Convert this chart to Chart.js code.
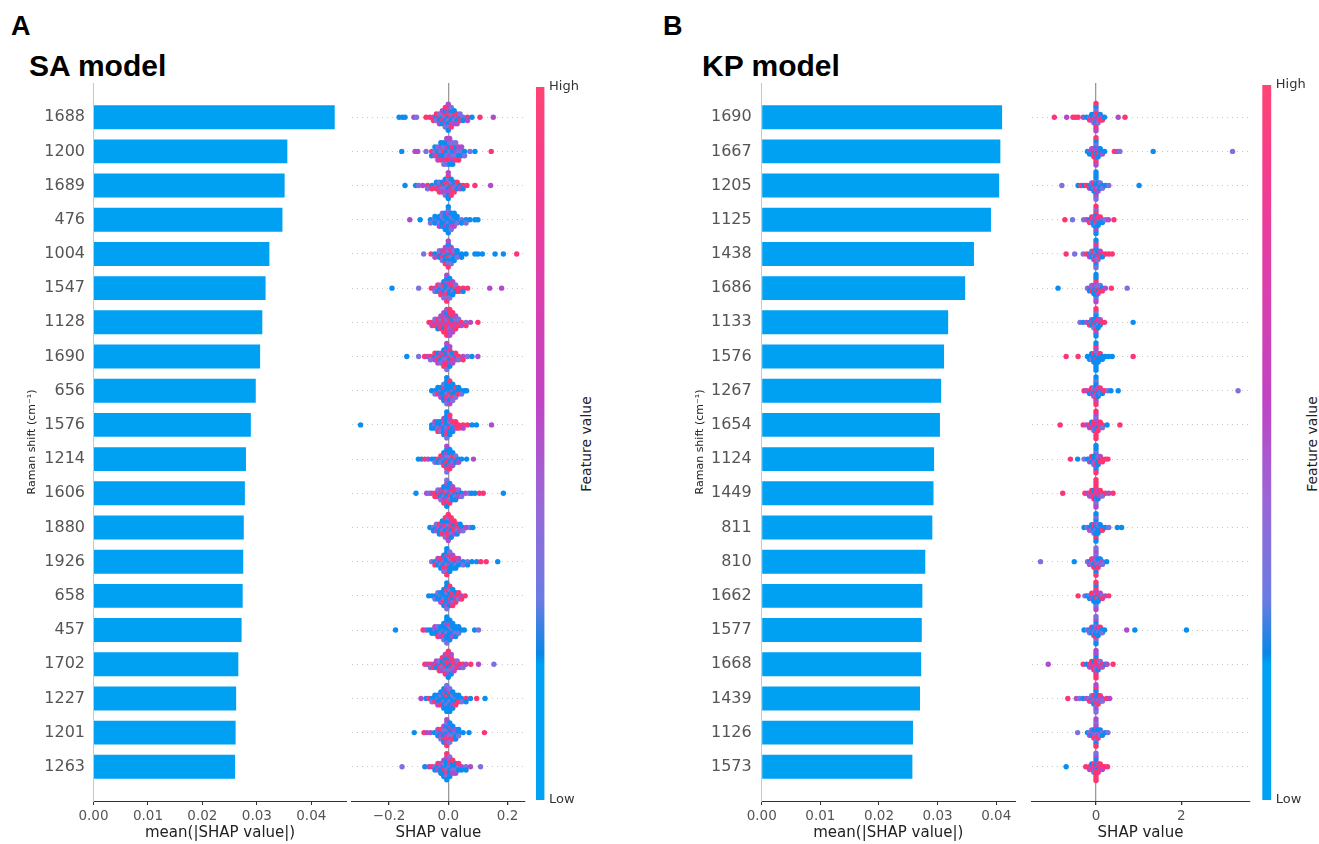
<!DOCTYPE html>
<html>
<head>
<meta charset="utf-8">
<script src="https://cdn.jsdelivr.net/npm/chart.js@4.4.1/dist/chart.umd.min.js"></script>
<style>
  body { margin: 0; background: #fff; width: 1319px; height: 844px; position: relative; overflow: hidden; }
  canvas { position: absolute; top: 0; }
  .lab { position: absolute; font-family: "Liberation Sans", Arial, sans-serif; font-weight: bold; color: #000; line-height: 1; white-space: nowrap; }
  .fv { position: absolute; font: 14px "DejaVu Sans", sans-serif; color: #222; white-space: nowrap; transform: translate(-50%, -50%) rotate(-90deg); }
</style>
</head>
<body>
<div class="lab" style="left:11px;top:13px;font-size:27px">A</div>
<div class="lab" style="left:29px;top:51px;font-size:30px">SA model</div>
<div class="lab" style="left:663px;top:13px;font-size:27px">B</div>
<div class="lab" style="left:702px;top:51px;font-size:30px">KP model</div>
<div class="fv" style="left:586px;top:444px">Feature value</div>
<div class="fv" style="left:1312px;top:444px">Feature value</div>

<canvas id="barA" width="360" height="844" style="left:0px"></canvas>
<canvas id="swarmA" width="200" height="844" style="left:340px"></canvas>
<canvas id="cbarA" width="80" height="844" style="left:530px"></canvas>
<canvas id="barB" width="370" height="844" style="left:660px"></canvas>
<canvas id="swarmB" width="245" height="844" style="left:1020px"></canvas>
<canvas id="cbarB" width="63" height="844" style="left:1256px"></canvas>

<script>
// ---- data ----
const saLabels = ['1688','1200','1689','476','1004','1547','1128','1690','656','1576',
  '1214','1606','1880','1926','658','457','1702','1227','1201','1263'];
const saMean = [0.0443,0.0356,0.0351,0.0347,0.0323,0.0316,0.0310,0.0306,0.0298,0.0289,
  0.0280,0.0278,0.0276,0.0275,0.0274,0.0272,0.0266,0.0262,0.0261,0.0260];

const kpLabels = ['1690','1667','1205','1125','1438','1686','1133','1576','1267','1654',
  '1124','1449','811','810','1662','1577','1668','1439','1126','1573'];
const kpMean = [0.0410,0.0407,0.0405,0.0391,0.0362,0.0347,0.0318,0.0311,0.0306,0.0304,
  0.0294,0.0293,0.0291,0.0279,0.0274,0.0273,0.0272,0.0270,0.0258,0.0257];

const barTicks = [0, 0.01, 0.02, 0.03, 0.04];
const saShapTicks = [-0.2, 0, 0.2];
const kpShapTicks = [0, 2];

// SHAP values per row: [value, colours of the dots in that bin]
// b = low, v = low-mid, m = mid-high, h = high feature value
const saSwarm = [
  [[-0.166,'b'],[-0.155,'b'],[-0.146,'b'],[-0.116,'m'],[-0.107,'v'],[-0.075,'h'],[-0.062,'h'],[-0.05,'mh'],[-0.04,'bvh'],[-0.03,'hbvm'],[-0.02,'bhvbm'],[-0.01,'vbhmbvh'],[0,'bvhbmvhbm'],[0.01,'hbvmbhv'],[0.02,'bvhmb'],[0.03,'vbhm'],[0.04,'bhv'],[0.05,'vb'],[0.065,'hm'],[0.08,'b'],[0.107,'h'],[0.152,'m']],
  [[-0.157,'b'],[-0.112,'m'],[-0.103,'m'],[-0.075,'v'],[-0.056,'hb'],[-0.045,'vmb'],[-0.035,'bhvm'],[-0.025,'vbmhb'],[-0.015,'hbvmbv'],[-0.005,'bvmhbvm'],[0.005,'vmbhvbm'],[0.015,'bvhmvb'],[0.025,'mvbhv'],[0.035,'vbmh'],[0.045,'vbm'],[0.055,'bv'],[0.073,'v'],[0.09,'b'],[0.145,'h']],
  [[-0.146,'b'],[-0.11,'b'],[-0.1,'v'],[-0.086,'m'],[-0.07,'hv'],[-0.055,'bh'],[-0.04,'vhb'],[-0.03,'bmvh'],[-0.02,'hvbm'],[-0.01,'bvhmbv'],[0,'vbhmvbhbm'],[0.01,'bhvmbh'],[0.02,'mvbh'],[0.03,'vbh'],[0.04,'bm'],[0.05,'hb'],[0.063,'h'],[0.09,'h'],[0.143,'m']],
  [[-0.13,'m'],[-0.095,'b'],[-0.06,'bv'],[-0.045,'vbb'],[-0.03,'bvbm'],[-0.02,'bbvbv'],[-0.01,'vbbmbb'],[0,'bvbbmbvbb'],[0.01,'bbvmbv'],[0.02,'vbbmb'],[0.03,'bvb'],[0.045,'vb'],[0.06,'bv'],[0.073,'b'],[0.09,'b'],[0.1,'b']],
  [[-0.083,'v'],[-0.058,'h'],[-0.045,'bm'],[-0.03,'hbv'],[-0.02,'bhmv'],[-0.01,'vbhbmh'],[0,'bhvbmvbhm'],[0.01,'bvhbmv'],[0.02,'hbvb'],[0.03,'bvb'],[0.045,'bb'],[0.06,'b'],[0.09,'b'],[0.1,'b'],[0.115,'b'],[0.158,'b'],[0.186,'b'],[0.231,'h']],
  [[-0.19,'b'],[-0.1,'v'],[-0.057,'h'],[-0.045,'mv'],[-0.035,'vbh'],[-0.025,'bmvh'],[-0.015,'vbhmbv'],[-0.005,'bvbhmvbhm'],[0.005,'vbmbhvb'],[0.015,'bvhbm'],[0.025,'hbv'],[0.035,'hh'],[0.05,'hb'],[0.065,'h'],[0.14,'m'],[0.18,'m']],
  [[-0.065,'h'],[-0.055,'hm'],[-0.045,'mhv'],[-0.035,'hmhb'],[-0.025,'mhvhm'],[-0.015,'hmhbmhm'],[-0.005,'mhvhmhbhm'],[0.005,'hmhvbmhmh'],[0.015,'mhbmhmh'],[0.025,'hmvhm'],[0.035,'mhv'],[0.045,'hm'],[0.06,'vh'],[0.075,'m'],[0.1,'h']],
  [[-0.14,'b'],[-0.1,'v'],[-0.08,'h'],[-0.07,'m'],[-0.06,'hv'],[-0.045,'bmh'],[-0.035,'vhbm'],[-0.025,'hbmv'],[-0.015,'bvhmbh'],[-0.005,'mvbhmhbvm'],[0.005,'hbvmhbm'],[0.015,'vhbm'],[0.025,'bmh'],[0.035,'hv'],[0.05,'mh'],[0.065,'v'],[0.08,'b'],[0.1,'m']],
  [[-0.056,'b'],[-0.045,'bv'],[-0.035,'bhb'],[-0.025,'vbbm'],[-0.015,'bbhbvb'],[-0.005,'bvbhbmbvb'],[0.005,'bhbvbbhm'],[0.015,'vbbhbv'],[0.025,'bbhv'],[0.035,'bhb'],[0.045,'bv'],[0.055,'b'],[0.062,'b']],
  [[-0.296,'b'],[-0.056,'bb'],[-0.045,'vbm'],[-0.035,'bvbh'],[-0.025,'bmbv'],[-0.015,'vbhbmb'],[-0.005,'bvbmbhbvb'],[0.005,'bhvbmbh'],[0.015,'vbhb'],[0.025,'hmh'],[0.035,'hh'],[0.05,'hm'],[0.065,'h'],[0.08,'b'],[0.095,'b'],[0.146,'m']],
  [[-0.101,'b'],[-0.09,'b'],[-0.079,'h'],[-0.068,'m'],[-0.055,'b'],[-0.045,'bv'],[-0.035,'hb'],[-0.025,'bvh'],[-0.015,'vbmhb'],[-0.005,'bhvbmhbvm'],[0.005,'hbvmbhb'],[0.015,'bvhmb'],[0.025,'hbv'],[0.035,'bm'],[0.045,'b'],[0.062,'b'],[0.085,'m']],
  [[-0.109,'b'],[-0.073,'m'],[-0.065,'v'],[-0.056,'m'],[-0.045,'hh'],[-0.035,'bhv'],[-0.025,'hbmv'],[-0.015,'bvhmbh'],[-0.005,'hbvmbhmbv'],[0.005,'bhmvbhb'],[0.015,'vbhbm'],[0.025,'bvhb'],[0.035,'bmv'],[0.045,'bv'],[0.058,'m'],[0.07,'v'],[0.079,'b'],[0.09,'b'],[0.105,'h'],[0.118,'h'],[0.186,'b']],
  [[-0.062,'b'],[-0.05,'vb'],[-0.04,'bmv'],[-0.03,'vbhb'],[-0.02,'bvmhb'],[-0.01,'vbhmbvh'],[0,'bmvhbhvmh'],[0.01,'hbhvmbh'],[0.02,'hhbmh'],[0.03,'hvhb'],[0.04,'hmb'],[0.05,'bv'],[0.062,'m'],[0.075,'v'],[0.083,'b']],
  [[-0.056,'v'],[-0.045,'bh'],[-0.035,'vbm'],[-0.025,'bvhb'],[-0.015,'vbmhbv'],[-0.005,'bvbhmvbhb'],[0.005,'bmvbhbv'],[0.015,'vbhbm'],[0.025,'bvhb'],[0.035,'vbm'],[0.05,'bv'],[0.065,'vb'],[0.08,'b'],[0.096,'b'],[0.11,'h'],[0.128,'h'],[0.167,'b']],
  [[-0.066,'b'],[-0.055,'b'],[-0.045,'bv'],[-0.035,'bbv'],[-0.025,'vbbm'],[-0.015,'bvbhbb'],[-0.005,'bbvbhmbvb'],[0.005,'bhbmvbh'],[0.015,'hbhvbh'],[0.025,'hmbh'],[0.035,'hvh'],[0.045,'mh'],[0.057,'h']],
  [[-0.178,'b'],[-0.085,'h'],[-0.075,'m'],[-0.065,'b'],[-0.055,'bb'],[-0.045,'vbm'],[-0.035,'bbvh'],[-0.025,'bvbm'],[-0.015,'vbbhbv'],[-0.005,'bvbbmbbvb'],[0.005,'bbvbhbb'],[0.015,'vbbmb'],[0.025,'bvbb'],[0.035,'bvb'],[0.045,'b'],[0.054,'b'],[0.089,'b'],[0.102,'v']],
  [[-0.079,'h'],[-0.07,'m'],[-0.06,'hv'],[-0.05,'mh'],[-0.04,'hbm'],[-0.03,'bhvh'],[-0.02,'hvbmh'],[-0.01,'bhmvbhm'],[0,'hbhvbmhbh'],[0.01,'bhmvhbm'],[0.02,'hvhm'],[0.03,'mhv'],[0.04,'hm'],[0.05,'hv'],[0.06,'m'],[0.076,'h'],[0.102,'m'],[0.154,'v']],
  [[-0.092,'m'],[-0.075,'b'],[-0.065,'h'],[-0.055,'bv'],[-0.045,'bhb'],[-0.035,'vbbm'],[-0.025,'bbvhb'],[-0.015,'bvbbmbb'],[-0.005,'bbhvbbmbv'],[0.005,'bvbbhbvb'],[0.015,'bbvmbb'],[0.025,'vbbh'],[0.035,'bhb'],[0.045,'bv'],[0.06,'hb'],[0.075,'b'],[0.096,'h'],[0.124,'b']],
  [[-0.115,'b'],[-0.082,'h'],[-0.072,'m'],[-0.06,'m'],[-0.047,'b'],[-0.035,'vbm'],[-0.025,'bmhv'],[-0.015,'mbvhmb'],[-0.005,'bmvhbmvhm'],[0.005,'mvbhmvb'],[0.015,'bvmhb'],[0.025,'vbmb'],[0.035,'bvb'],[0.05,'b'],[0.07,'b'],[0.122,'h']],
  [[-0.156,'v'],[-0.079,'b'],[-0.065,'m'],[-0.055,'h'],[-0.045,'vb'],[-0.035,'bmh'],[-0.025,'vbmb'],[-0.015,'bhvbmb'],[-0.005,'bvbhbvmbh'],[0.005,'vbmbhbv'],[0.015,'bvbmh'],[0.025,'bvbm'],[0.035,'vbh'],[0.045,'mb'],[0.06,'vb'],[0.075,'m'],[0.109,'v']]
];

const kpSwarm = [
  [[-0.977,'h'],[-0.687,'m'],[-0.54,'h'],[-0.48,'h'],[-0.42,'h'],[-0.3,'m'],[-0.22,'b'],[-0.15,'vh'],[-0.1,'hmb'],[-0.05,'mhbv'],[0,'hmvbhmvhbmh'],[0.05,'bmhv'],[0.1,'vhb'],[0.15,'mh'],[0.2,'b'],[0.52,'m'],[0.68,'h']],
  [[-0.2,'b'],[-0.15,'mb'],[-0.1,'hbm'],[-0.05,'bhmh'],[0,'hbmhbmvhbmh'],[0.05,'bhmb'],[0.1,'hbb'],[0.15,'bm'],[0.2,'b'],[0.43,'h'],[0.5,'m'],[0.56,'v'],[1.34,'b'],[3.2,'v']],
  [[-0.8,'v'],[-0.42,'b'],[-0.35,'h'],[-0.28,'b'],[-0.22,'h'],[-0.15,'bm'],[-0.1,'hbv'],[-0.05,'bvhb'],[0,'bmbhvbbmbvb'],[0.05,'bvbm'],[0.1,'bbv'],[0.15,'bv'],[0.22,'b'],[0.3,'v'],[1.01,'b']],
  [[-0.73,'h'],[-0.55,'v'],[-0.29,'v'],[-0.22,'m'],[-0.15,'bh'],[-0.1,'bvh'],[-0.05,'hbmb'],[0,'bhmvbbhmvbh'],[0.05,'bmhb'],[0.1,'vbh'],[0.15,'mb'],[0.22,'v'],[0.29,'m'],[0.42,'h']],
  [[-0.7,'h'],[-0.5,'v'],[-0.3,'v'],[-0.22,'h'],[-0.15,'bm'],[-0.1,'hbv'],[-0.05,'bvhm'],[0,'hbvmbhmbhvb'],[0.05,'hmbv'],[0.1,'bhm'],[0.15,'hb'],[0.22,'h'],[0.3,'h'],[0.38,'h']],
  [[-0.89,'b'],[-0.2,'v'],[-0.15,'mb'],[-0.1,'bhv'],[-0.05,'vbmb'],[0,'bhvbmbhvbmb'],[0.05,'hbvm'],[0.1,'mhv'],[0.15,'bh'],[0.22,'m'],[0.36,'h'],[0.73,'v']],
  [[-0.375,'v'],[-0.3,'b'],[-0.22,'m'],[-0.15,'bh'],[-0.1,'vbm'],[-0.05,'bhbv'],[0,'hbmvbhbmvbh'],[0.05,'bvhb'],[0.1,'hbm'],[0.15,'h'],[0.2,'h'],[0.87,'b']],
  [[-0.7,'h'],[-0.42,'h'],[-0.2,'b'],[-0.15,'bb'],[-0.1,'bvb'],[-0.05,'bbhb'],[0,'bhbbvbmbhbb'],[0.05,'bbvb'],[0.1,'bbh'],[0.15,'bb'],[0.22,'b'],[0.3,'b'],[0.38,'b'],[0.87,'h']],
  [[-0.28,'h'],[-0.22,'m'],[-0.15,'hb'],[-0.1,'bmh'],[-0.05,'hbvm'],[0,'bhmvbhbmvhb'],[0.05,'hbmb'],[0.1,'bvh'],[0.15,'mb'],[0.2,'h'],[0.28,'v'],[0.35,'b'],[0.52,'b'],[3.33,'v']],
  [[-0.84,'h'],[-0.3,'h'],[-0.22,'m'],[-0.15,'hm'],[-0.1,'mhb'],[-0.05,'hmhv'],[0,'hmhbmhvhmhh'],[0.05,'hbmh'],[0.1,'mhh'],[0.15,'hv'],[0.26,'b'],[0.56,'h']],
  [[-0.6,'h'],[-0.43,'b'],[-0.28,'v'],[-0.2,'b'],[-0.15,'bm'],[-0.1,'vbh'],[-0.05,'bmbv'],[0,'bvbhbmvbbhb'],[0.05,'hbvb'],[0.1,'bhm'],[0.15,'hh'],[0.22,'h'],[0.28,'h']],
  [[-0.78,'h'],[-0.26,'h'],[-0.2,'m'],[-0.15,'hm'],[-0.1,'hmh'],[-0.05,'mhbh'],[0,'hmhbhmhvhmh'],[0.05,'hhmb'],[0.1,'hmh'],[0.15,'hv'],[0.22,'h'],[0.3,'m'],[0.4,'h']],
  [[-0.28,'b'],[-0.2,'v'],[-0.15,'bm'],[-0.1,'bvb'],[-0.05,'bbhv'],[0,'bvbbmbbhvbb'],[0.05,'bbvb'],[0.1,'vbb'],[0.15,'bh'],[0.22,'b'],[0.3,'v'],[0.5,'b'],[0.6,'b']],
  [[-1.3,'v'],[-0.51,'b'],[-0.2,'v'],[-0.15,'bm'],[-0.1,'mvh'],[-0.05,'vbmh'],[0,'hmvbmhvbmhv'],[0.05,'mvbh'],[0.1,'vmb'],[0.15,'mv'],[0.25,'b']],
  [[-0.42,'h'],[-0.26,'v'],[-0.2,'b'],[-0.15,'vb'],[-0.1,'bmh'],[-0.05,'vbhb'],[0,'bhvbmbhvbmh'],[0.05,'bvhb'],[0.1,'hbm'],[0.15,'vh'],[0.22,'m'],[0.3,'h']],
  [[-0.28,'b'],[-0.2,'v'],[-0.15,'bv'],[-0.1,'vbm'],[-0.05,'bvbm'],[0,'vbmbvhbvmbv'],[0.05,'bvmb'],[0.1,'vbh'],[0.15,'bv'],[0.2,'b'],[0.72,'m'],[0.91,'b'],[2.12,'b']],
  [[-1.12,'m'],[-0.3,'h'],[-0.22,'b'],[-0.15,'hm'],[-0.1,'hmh'],[-0.05,'mhbh'],[0,'hmhvhmbhmhm'],[0.05,'hmhb'],[0.1,'mhv'],[0.15,'hm'],[0.22,'b'],[0.26,'m'],[0.4,'h']],
  [[-0.66,'h'],[-0.46,'m'],[-0.38,'v'],[-0.3,'b'],[-0.22,'m'],[-0.15,'vh'],[-0.1,'bmv'],[-0.05,'mvhb'],[0,'vmbhmvbmhvm'],[0.05,'mvbh'],[0.1,'vmh'],[0.15,'mv'],[0.25,'h'],[0.32,'m']],
  [[-0.43,'v'],[-0.2,'b'],[-0.15,'vm'],[-0.1,'mbv'],[-0.05,'vmbh'],[0,'mvbhmvmbvhm'],[0.05,'vmbh'],[0.1,'mvb'],[0.15,'vb'],[0.22,'b'],[0.28,'v']],
  [[-0.7,'b'],[-0.24,'h'],[-0.15,'hm'],[-0.1,'mhb'],[-0.05,'hmhv'],[0,'hmbhmhbhmhv'],[0.05,'hbmh'],[0.1,'mhh'],[0.15,'hm'],[0.2,'h'],[0.27,'h']]
];

// ---- styling ----
const BAR = '#00a0f2';
const DOT = { b: '#0a8df2', v: '#7b72e0', m: '#b04ccb', h: '#ff3472' };
const rows = saLabels.map((l, i) => i);

Chart.defaults.font.family = "'DejaVu Sans', sans-serif";
Chart.defaults.color = '#333';
Chart.defaults.animation = false;
Chart.defaults.responsive = false;
Chart.defaults.plugins.legend.display = false;
Chart.defaults.plugins.tooltip.enabled = false;

function rowAxis(o) {
  return {
    type: 'linear', min: -1, max: 20, reverse: true, offset: false,
    afterBuildTicks: s => { s.ticks = rows.map(v => ({ value: v })) },
    afterFit: s => { s.width = o.width },
    ...o.extra
  };
}

function barChart(id, labels, values, o) {
  new Chart(document.getElementById(id), {
    type: 'bar',
    data: { datasets: [{ data: values.map((v, i) => ({ x: v, y: i })), backgroundColor: BAR, barPercentage: 0.7, categoryPercentage: 1 }] },
    options: {
      indexAxis: 'y',
      layout: { padding: { top: 83, right: o.padRight, left: 0, bottom: 0 } },
      scales: {
        x: {
          type: 'linear', min: 0, max: o.xMax,
          afterBuildTicks: s => { s.ticks = barTicks.map(v => ({ value: v })) },
          afterFit: s => { s.height = 43 },
          ticks: { font: { size: 13.5 }, color: '#555', padding: 3, maxRotation: 0, callback: v => v.toFixed(2) },
          grid: { drawOnChartArea: false, tickLength: 4, tickColor: '#333' },
          border: { color: '#333' },
          title: { display: true, text: 'mean(|SHAP value|)', font: { size: 15 }, color: '#222', padding: { top: 0, bottom: 2 } }
        },
        y: rowAxis({
          width: o.yWidth,
          extra: {
            ticks: { font: { size: 16 }, color: '#555', padding: o.labPad, autoSkip: false, callback: v => labels[v] },
            grid: { display: false, drawTicks: false, offset: false },
            border: { color: '#c8c8c8' },
            title: { display: true, text: 'Raman shift (cm⁻¹)', font: { size: 11 }, color: '#222', padding: { top: o.titlePad, bottom: 0 } }
          }
        })
      }
    }
  });
}

// beeswarm: dots sharing a bin are stacked 0, +1, -1, +2, -2 ... around the row
function swarmPoints(swarm, spread) {
  const pts = [], cols = [];
  swarm.forEach((bins, r) => {
    let maxK = 1;
    bins.forEach(b => { maxK = Math.max(maxK, Math.ceil((b[1].length - 1) / 2)) });
    const step = spread / maxK;
    bins.forEach(([v, s]) => {
      for (let i = 0; i < s.length; i++) {
        const k = Math.ceil(i / 2) * (i % 2 ? 1 : -1);
        pts.push({ x: v, y: r + k * step });
        cols.push(DOT[s[i]]);
      }
    });
  });
  return { pts, cols };
}

function swarmChart(id, swarm, o) {
  const { pts, cols } = swarmPoints(swarm, o.spread);
  new Chart(document.getElementById(id), {
    type: 'scatter',
    data: { datasets: [{ data: pts, pointRadius: 2.7, pointBorderWidth: 0, pointBackgroundColor: cols }] },
    options: {
      layout: { padding: { top: 83, left: o.padLeft, right: o.padRight, bottom: 0 } },
      scales: {
        x: {
          type: 'linear', min: o.min, max: o.max,
          afterBuildTicks: s => { s.ticks = o.ticks.map(v => ({ value: v })) },
          afterFit: s => { s.height = 43 },
          ticks: { font: { size: 13.5 }, color: '#555', padding: 3, maxRotation: 0, callback: o.fmt },
          grid: { color: c => (c.tick && c.tick.value === 0) ? '#9a9a9a' : 'rgba(0,0,0,0)', lineWidth: 1.3, tickLength: 4, tickColor: '#333' },
          border: { color: '#333' },
          title: { display: true, text: 'SHAP value', font: { size: 15 }, color: '#222', padding: { top: 0, bottom: 2 } }
        },
        y: rowAxis({
          width: 0,
          extra: {
            ticks: { display: false },
            grid: { color: '#c8c8c8', lineWidth: 1, drawTicks: false },
            border: { display: false, dash: [1, 4] }
          }
        })
      }
    }
  });
}

function cbarGradient(chart) {
  const a = chart.chartArea;
  if (!a) return BAR;
  const g = chart.ctx.createLinearGradient(0, a.bottom, 0, a.top);
  g.addColorStop(0, '#00a2f4');
  g.addColorStop(0.19, '#00a0f2');
  g.addColorStop(0.205, '#0a86e6');
  g.addColorStop(0.28, '#6a7ce2');
  g.addColorStop(0.42, '#9a66d6');
  g.addColorStop(0.56, '#c044c4');
  g.addColorStop(0.75, '#e03ea8');
  g.addColorStop(0.9, '#f83c88');
  g.addColorStop(1, '#ff4474');
  return g;
}

function colorBar(id, o) {
  new Chart(document.getElementById(id), {
    type: 'bar',
    data: { labels: [''], datasets: [{ data: [[0, 1]], backgroundColor: c => cbarGradient(c.chart), barPercentage: 1, categoryPercentage: 1, borderWidth: 0 }] },
    options: {
      layout: { padding: { top: o.top, left: o.padLeft, right: 0, bottom: 44 } },
      scales: {
        x: { display: false },
        y: {
          position: 'right', min: 0, max: 1,
          afterBuildTicks: s => { s.ticks = [{ value: 0 }, { value: 1 }] },
          afterFit: s => { s.width = o.width },
          ticks: { font: { size: 13 }, color: '#333', padding: 4.5, callback: v => v === 1 ? 'High' : 'Low' },
          grid: { display: false, drawTicks: false },
          border: { display: false }
        }
      }
    }
  });
}

const fmtSA = v => v.toFixed(1).replace('-', '\u2212');
const fmtKP = v => String(v);

barChart('barA', saLabels, saMean, { xMax: 0.0465, padRight: 13.3, yWidth: 93.5, labPad: 8.5, titlePad: 25.4 });
swarmChart('swarmA', saSwarm, { min: -0.326, max: 0.259, ticks: saShapTicks, fmt: fmtSA, padLeft: 11.7, padRight: 15, spread: 0.38 });
colorBar('cbarA', { top: 87, padLeft: 6, width: 65.5 });

barChart('barB', kpLabels, kpMean, { xMax: 0.0432, padRight: 15, yWidth: 101.7, labPad: 10, titlePad: 33.4 });
swarmChart('swarmB', kpSwarm, { min: -1.507, max: 3.593, ticks: kpShapTicks, fmt: fmtKP, padLeft: 11.7, padRight: 15.7, spread: 0.4 });
colorBar('cbarB', { top: 85, padLeft: 6.3, width: 47.7 });
</script>
</body>
</html>
